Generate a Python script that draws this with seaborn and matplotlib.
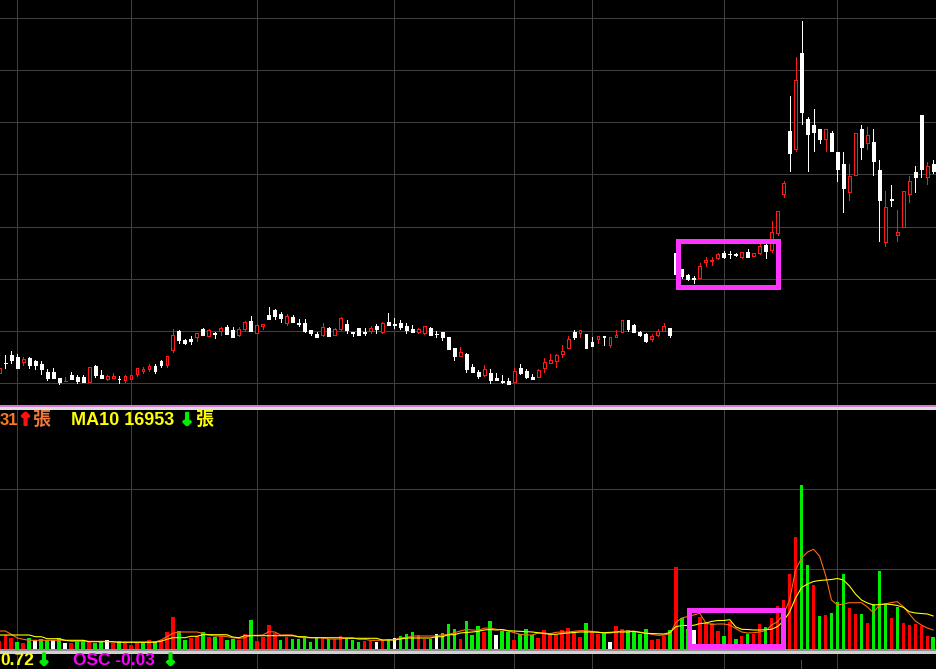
import matplotlib
matplotlib.use("Agg")
import matplotlib.pyplot as plt
from matplotlib.patches import Rectangle
from matplotlib.lines import Line2D
import matplotlib.patheffects as pe
import seaborn as sns
import numpy as np
import pandas as pd

# ---------------- data: trading days -1 .. 155 (rows of ten) ----------------
opens = [
    12.73, 13.73, 14.5, 14.33, 13.8, 14.23, 13.93, 13.63, 12.83, 12.8,
    12.2, 11.87, 12.53, 12.3, 12.3, 11.83, 13.4, 12.5, 12.1, 12.2,
    12.13, 12.0, 12.1, 12.63, 12.87, 13.13, 13.43, 13.87, 13.5, 15.0,
    16.9, 16.0, 16.13, 16.33, 17.1, 16.43, 16.67, 16.9, 17.3, 17.0,
    16.53, 17.1, 17.9, 16.73, 17.4, 18.5, 19.0, 18.6, 17.73, 18.27,
    17.67, 17.7, 16.97, 16.63, 16.47, 17.2, 16.53, 17.07, 17.6, 16.8,
    17.2, 16.8, 16.9, 17.43, 16.83, 17.8, 17.57, 17.7, 17.4, 17.1,
    16.83, 16.73, 17.2, 16.63, 16.8, 16.3, 15.17, 14.43, 14.6, 13.33,
    12.83, 12.5, 12.7, 12.23, 11.9, 11.93, 11.8, 13.2, 12.9, 12.33,
    12.33, 13.23, 13.67, 13.9, 14.57, 15.23, 16.8, 16.73, 16.6, 15.8,
    16.07, 16.4, 15.5, 16.33, 16.8, 18.0, 17.53, 16.8, 16.63, 16.07,
    16.53, 16.9, 17.17, 24.73, 23.1, 22.53, 22.17, 22.23, 23.83, 23.9,
    24.23, 24.73, 24.63, 24.57, 24.33, 24.8, 24.37, 24.73, 25.53, 25.0,
    26.73, 30.63, 36.9, 35.13, 44.7, 38.1, 37.5, 37.1, 36.13, 36.7,
    34.8, 33.6, 30.83, 32.53, 37.1, 35.73, 35.8, 33.0, 25.83, 30.1,
    26.53, 27.33, 30.63, 32.8, 38.5, 32.33, 33.6]
highs = [
    13.23, 14.5, 14.9, 14.6, 14.27, 14.33, 14.03, 13.9, 13.1, 13.17,
    12.2, 12.3, 12.8, 12.5, 12.47, 13.27, 13.5, 13.0, 12.53, 12.7,
    12.4, 12.53, 12.47, 13.23, 13.33, 13.63, 13.57, 13.97, 14.4, 17.1,
    17.03, 16.1, 16.4, 16.7, 17.2, 17.13, 16.83, 17.27, 17.5, 17.27,
    17.27, 17.93, 18.4, 17.6, 17.6, 19.3, 19.1, 18.8, 18.57, 18.5,
    18.07, 18.07, 16.97, 16.8, 17.67, 17.27, 17.2, 18.27, 18.0, 16.8,
    17.2, 17.2, 17.4, 17.6, 17.8, 18.7, 18.2, 18.0, 17.73, 17.5,
    17.23, 17.37, 17.3, 16.9, 16.8, 16.3, 15.17, 15.3, 14.7, 13.6,
    13.0, 13.5, 13.1, 12.7, 12.5, 12.2, 13.2, 13.6, 13.1, 12.6,
    13.1, 14.2, 14.6, 14.63, 15.5, 16.4, 17.0, 16.97, 16.6, 16.27,
    16.37, 16.4, 16.27, 17.0, 17.97, 18.0, 17.6, 16.93, 16.73, 16.6,
    17.1, 17.7, 17.17, 24.73, 23.1, 22.63, 22.43, 23.67, 24.33, 24.33,
    24.73, 24.93, 24.93, 24.73, 24.77, 25.1, 24.7, 25.67, 25.67, 27.9,
    28.9, 31.9, 40.4, 44.3, 47.9, 38.3, 39.1, 37.1, 37.1, 36.9,
    34.8, 34.8, 33.6, 36.7, 37.5, 37.3, 37.1, 34.0, 30.9, 31.5,
    29.0, 30.9, 32.4, 33.4, 38.5, 33.8, 34.0]
lows = [
    12.73, 13.2, 13.7, 13.2, 13.5, 13.23, 13.1, 12.6, 12.0, 12.2,
    11.63, 11.87, 12.1, 11.73, 11.83, 11.83, 12.3, 12.2, 12.0, 12.2,
    11.73, 11.8, 12.1, 12.4, 12.7, 12.9, 12.7, 13.33, 13.3, 14.8,
    15.67, 15.63, 15.63, 15.93, 16.47, 16.37, 16.23, 16.53, 16.63, 16.33,
    16.4, 16.93, 16.9, 16.67, 17.1, 18.13, 18.13, 17.83, 17.53, 17.83,
    17.4, 16.8, 16.53, 16.27, 16.4, 16.43, 16.47, 17.0, 16.73, 16.43,
    16.53, 16.53, 16.7, 16.73, 16.7, 17.5, 17.23, 17.13, 16.73, 16.83,
    16.7, 16.6, 16.53, 16.33, 16.03, 15.13, 14.03, 14.43, 12.83, 12.8,
    12.2, 12.43, 11.7, 12.03, 11.7, 11.6, 11.8, 12.6, 12.2, 12.1,
    12.33, 12.83, 13.67, 13.33, 14.33, 15.23, 16.07, 16.33, 15.23, 15.43,
    15.73, 15.53, 15.33, 16.33, 16.8, 16.93, 16.83, 16.37, 15.83, 15.87,
    16.43, 16.9, 16.33, 22.6, 22.17, 22.03, 21.73, 22.23, 23.43, 23.53,
    24.07, 24.23, 24.23, 24.37, 24.2, 24.33, 24.37, 24.63, 24.23, 24.83,
    26.47, 30.33, 32.93, 34.93, 37.63, 32.93, 34.93, 35.73, 34.93, 34.93,
    31.93, 28.83, 30.03, 32.53, 34.13, 35.13, 32.53, 25.93, 25.43, 29.43,
    25.93, 27.33, 29.83, 30.83, 32.33, 31.63, 32.73]
closes = [
    13.23, 13.68, 14.0, 13.2, 14.13, 13.5, 13.5, 13.1, 12.2, 12.2,
    11.8, 11.92, 12.1, 11.93, 11.83, 13.27, 12.5, 12.2, 12.37, 12.4,
    12.08, 12.4, 12.47, 13.17, 13.13, 13.43, 12.9, 13.47, 14.4, 16.5,
    16.0, 15.7, 15.87, 16.7, 16.53, 17.0, 16.63, 17.2, 16.63, 16.33,
    17.07, 17.77, 16.9, 17.47, 17.6, 18.13, 18.4, 18.23, 18.4, 17.83,
    17.62, 16.9, 16.7, 16.27, 17.27, 16.43, 17.1, 18.17, 17.0, 16.7,
    16.53, 16.75, 17.23, 17.07, 17.73, 17.5, 17.52, 17.33, 17.0, 16.83,
    17.13, 17.37, 16.53, 16.58, 16.33, 15.13, 14.43, 14.8, 13.13, 12.8,
    12.4, 13.07, 12.0, 12.03, 11.85, 11.6, 12.9, 12.73, 12.33, 12.1,
    13.0, 13.83, 14.0, 14.53, 14.9, 16.1, 16.33, 16.97, 15.23, 15.43,
    16.37, 16.27, 16.27, 16.53, 17.97, 17.13, 16.83, 16.5, 15.93, 16.4,
    16.87, 17.4, 16.5, 22.6, 22.4, 22.13, 22.12, 23.43, 24.03, 24.03,
    24.6, 24.33, 24.58, 24.52, 24.77, 24.33, 24.7, 25.43, 24.93, 26.8,
    28.9, 31.7, 34.73, 42.0, 38.83, 36.63, 36.83, 36.13, 37.1, 34.93,
    33.13, 31.23, 32.4, 36.7, 35.33, 36.5, 33.93, 30.03, 29.3, 30.05,
    26.8, 30.9, 31.9, 32.33, 33.13, 33.4, 32.93]

# volume in lots (張)
volume = [
    4150, 6850, 5500, 3500, 3000, 5500, 4350, 4850, 4350, 4350,
    5500, 3000, 3000, 4150, 4350, 3350, 3000, 3350, 4350, 3000,
    3850, 3000, 2150, 3000, 3000, 4350, 3850, 4350, 8350, 16000,
    8850, 4350, 5500, 6350, 8350, 6000, 6000, 6350, 4650, 5150,
    4500, 7500, 14500, 4000, 6150, 12000, 7850, 4500, 6000, 5000,
    5000, 6000, 3500, 6000, 5500, 5150, 5000, 6500, 5150, 4500,
    3650, 4000, 4000, 3650, 4500, 5000, 5500, 6500, 7500, 8350,
    7000, 5000, 5000, 7500, 8000, 12500, 10000, 4850, 13850, 6850,
    11350, 8650, 13850, 6850, 8850, 8500, 4500, 7350, 9850, 6850,
    5500, 9500, 7350, 6850, 9500, 10350, 8150, 6000, 12850, 8850,
    7350, 8150, 3350, 11350, 9850, 9500, 8850, 7350, 9850, 4500,
    4850, 6500, 9500, 40850, 15500, 10000, 9350, 15850, 12850, 12850,
    9000, 6500, 13650, 5000, 6500, 7500, 7500, 12500, 11000, 15500,
    21500, 24500, 37500, 56000, 82000, 42000, 32000, 16650, 17000, 18000,
    23500, 37500, 20650, 17500, 17500, 13000, 22500, 39000, 22500, 15500,
    21150, 13000, 12000, 12500, 11500, 6650, 6000]
# r = up, g = down, w = unchanged
vol_dir = list(
    "rrrgrgwggw" "gwrggrggwr" "grrrgrgrrr" "ggrrgrgrgg" "rrgrrrrgrg"
    "ggggrgrrgg" "grrwrgwggg" "rrgwgggrgg" "grgwggrggg" "rrrrrrrrgr"
    "rgwrrggggr" "rrgrggwrrr" "rgrgrgrrgr" "rrrrggrgrg" "ggrrgrgggr"
    "grrrrrg")
ma5 = [
    9000, 9000, 7350, 5500, 4850, 4350, 4350, 4350, 4350, 4350,
    4350, 4350, 3850, 3850, 3850, 3850, 3850, 3850, 3850, 3500,
    3500, 3500, 3500, 3500, 3500, 3500, 3500, 4500, 6150, 7850,
    8500, 8500, 8500, 8500, 7850, 7000, 6500, 6500, 6200, 5600,
    5350, 5600, 7000, 6800, 7000, 8650, 8500, 7000, 7100, 7000,
    6000, 5650, 5650, 5650, 5650, 5000, 5000, 5000, 5650, 5650,
    4850, 4850, 4350, 4350, 4350, 4650, 4650, 5650, 5650, 6500,
    6500, 6500, 6500, 6500, 7150, 7150, 8150, 9000, 9750, 9500,
    9350, 10400, 10500, 9850, 9500, 9000, 8150, 7350, 7000, 7000,
    8000, 8000, 7650, 8350, 8500, 8500, 8850, 9150, 9150, 8850,
    8500, 7850, 8000, 8500, 9000, 9000, 8850, 8500, 7850, 7350,
    6850, 7000, 7500, 13250, 15500, 16250, 17000, 17850, 13000, 12250,
    12500, 12500, 12000, 10250, 8500, 8000, 8150, 8500, 9150, 12000,
    13650, 17500, 24500, 39500, 45500, 48500, 49850, 46500, 37000, 24500,
    22000, 22500, 23150, 23150, 23150, 21000, 18150, 22000, 22500, 23250,
    23650, 21150, 17500, 14000, 12000, 10500, 9500]
ma10 = [
    7000, 7000, 7000, 7000, 7000, 7000, 6150, 6150, 5150, 5150,
    5150, 4350, 4350, 4350, 4350, 3650, 3650, 3650, 3650, 3650,
    3350, 3350, 3350, 3350, 3350, 3350, 3350, 3850, 4850, 5650,
    5650, 5650, 6350, 6350, 7150, 7150, 7150, 7150, 7150, 6000,
    5650, 6650, 6650, 6650, 6650, 6650, 6650, 6650, 6650, 6650,
    6150, 6150, 5650, 5650, 5650, 5650, 5650, 5650, 5350, 5350,
    5350, 5350, 5350, 5350, 4500, 4500, 4500, 5000, 5500, 5500,
    5500, 5500, 5500, 6150, 6150, 7150, 7150, 8000, 8250, 8500,
    8850, 9500, 9750, 9500, 9750, 9150, 9000, 8850, 8650, 8500,
    8150, 7750, 7350, 7350, 7750, 8000, 8250, 8500, 8500, 8500,
    8350, 8150, 8350, 8500, 8500, 8500, 8850, 8250, 7850, 7750,
    7650, 7500, 8200, 11150, 11750, 11750, 11850, 12700, 13000, 13800,
    14250, 14250, 14650, 11050, 9850, 9750, 9500, 9500, 9650, 9850,
    11250, 14000, 18500, 25500, 30750, 32500, 33750, 34250, 34500, 34750,
    35250, 34500, 31500, 27500, 24500, 23000, 22000, 22250, 22500, 22250,
    21750, 20850, 18650, 18000, 17750, 17500, 16500]

osc_day = [133]
osc_val = [9]

day = np.arange(-1, 156)
month_starts = [2, 21, 42, 65, 85, 98, 120, 139]

# highlighted ranges (trading-day index, price / volume)
box_days = (112.44, 128.98)
box_price = (21.35, 25.95)
box_vol_days = (114.25, 129.95)
box_vol = (1350, 19350)

n = len(day)
lens = {k: len(v) for k, v in dict(opens=opens, highs=highs, lows=lows, closes=closes,
                                    volume=volume, vol_dir=vol_dir, ma5=ma5, ma10=ma10).items()}
assert all(v == n for v in lens.values()), lens

df = pd.DataFrame({"day": day, "open": opens, "high": highs, "low": lows, "close": closes,
                   "volume": volume, "dir": vol_dir, "ma5": ma5, "ma10": ma10})

# ---------------- styling ----------------
sns.set_theme(style="dark", rc={"axes.facecolor": "black", "figure.facecolor": "black"})
plt.rcParams["font.family"] = ["Liberation Sans", "Noto Sans CJK TC", "DejaVu Sans"]

W, H = 937, 669
PX = 72 / 100.0  # one pixel in points
RED, GREEN, WHITE = "#ff1a1a", "#00ee00", "#ffffff"
GRID = "#404040"

fig = plt.figure(figsize=(W / 100, H / 100), dpi=100, facecolor="black")


def fy(ypx):
    return 1 - ypx / H


ax1 = fig.add_axes([0, fy(405), 1, 405 / H])
ax2 = fig.add_axes([0, fy(649), 1, 240 / H])
ax3 = fig.add_axes([0, 0, 1, fy(653)])
XLIM = (-0.885, 155.62)
for ax in (ax1, ax2, ax3):
    ax.set_facecolor("black")
    ax.set_xlim(*XLIM)
    for s in ax.spines.values():
        s.set_visible(False)
    ax.set_xticks([])
    ax.set_yticks([])
    ax.grid(False)
    for m in month_starts:
        ax.axvline(m, color=GRID, lw=PX, zorder=0, antialiased=False)

# price panel
ax1.set_ylim(9.5, 50)
for g in np.linspace(11.7, 48.2, 8):
    ax1.axhline(g, color=GRID, lw=PX, zorder=0, antialiased=False)

up = df["close"] >= df["open"]
cols = np.where(up, RED, WHITE)
ax1.vlines(df["day"], df["low"], df["high"], colors=cols, lw=PX, zorder=2, antialiased=False)
body_lo = np.minimum(df["open"], df["close"])
body_h = np.maximum(np.abs(df["close"] - df["open"]), 0.02)
ax1.bar(df["day"], body_h, bottom=body_lo, width=0.48,
        color=np.where(up, "black", WHITE), edgecolor=cols, linewidth=PX, zorder=3,
        antialiased=False)

ax1.add_patch(Rectangle((box_days[0], box_price[0]), box_days[1] - box_days[0], box_price[1] - box_price[0],
                        fill=False, edgecolor="#ff33ff", lw=4.6 * PX, zorder=5, antialiased=False))

# volume panel
vcol = df["dir"].map({"r": "#ff0000", "g": GREEN, "w": WHITE})
ax2.bar(df["day"], df["volume"], width=0.6, color=vcol, linewidth=0, zorder=2, antialiased=False)
sns.lineplot(data=df, x="day", y="ma5", ax=ax2, color="#ff6a10", lw=1.1 * PX, zorder=3)
sns.lineplot(data=df, x="day", y="ma10", ax=ax2, color="#ffff00", lw=1.1 * PX, zorder=4)
ax2.set_xlabel("")
ax2.set_ylabel("")
ax2.set_xticks([])
ax2.set_yticks([])
ax2.set_xlim(*XLIM)
ax2.set_ylim(0, 120000)
for g in (40000, 80000):
    ax2.axhline(g, color=GRID, lw=PX, zorder=0, antialiased=False)
ax2.add_patch(Rectangle((box_vol_days[0], box_vol[0]), box_vol_days[1] - box_vol_days[0], box_vol[1] - box_vol[0],
                        fill=False, edgecolor="#ff33ff", lw=4.6 * PX, zorder=5, antialiased=False))

# oscillator strip (only the top of one bar shows)
ax3.set_ylim(0, 16)
ax3.bar(osc_day, osc_val, width=0.3, color="#ff0000", linewidth=0, zorder=2)

# separators
for y, c in ((405.5, "#d07ad0"), (408.0, "#dddddd"), (650.2, "#909090"), (652.3, "#d0d0d0")):
    fig.add_artist(Line2D([0, 1], [fy(y), fy(y)], color=c, lw=PX * 1.2, antialiased=False))


# legend texts
def put(x, y, s, c, fs=13, ha="left", family=None, thick=False):
    kw = {} if family is None else {"family": family}
    t = fig.text(x / W, fy(y), s, color=c, fontsize=fs, fontweight="bold", ha=ha, va="baseline", **kw)
    if thick:
        t.set_path_effects([pe.withStroke(linewidth=1.6, foreground=c)])


ARW = ["DejaVu Sans"]
put(0, 425, "31", "#ff7a20", fs=12)
put(25.5, 425, "↑", "#ff1010", fs=12, ha="center", family=ARW, thick=True)
put(32.5, 425, "張", "#f07838")
put(71, 425, "MA10 16953", "#ffff00")
put(187, 425, "↓", "#00ee00", fs=12, ha="center", family=ARW, thick=True)
put(196, 425, "張", "#ffff00")

put(0.5, 665, "0.72", "#ffff00", fs=12.5)
put(44, 665, "↓", "#00ee00", fs=11.5, ha="center", family=ARW, thick=True)
put(73, 665, "OSC -0.03", "#ff00ff", fs=12.5)
put(170.5, 665, "↓", "#00ee00", fs=11.5, ha="center", family=ARW, thick=True)

fig.savefig("out.png", dpi=100, facecolor="black")
